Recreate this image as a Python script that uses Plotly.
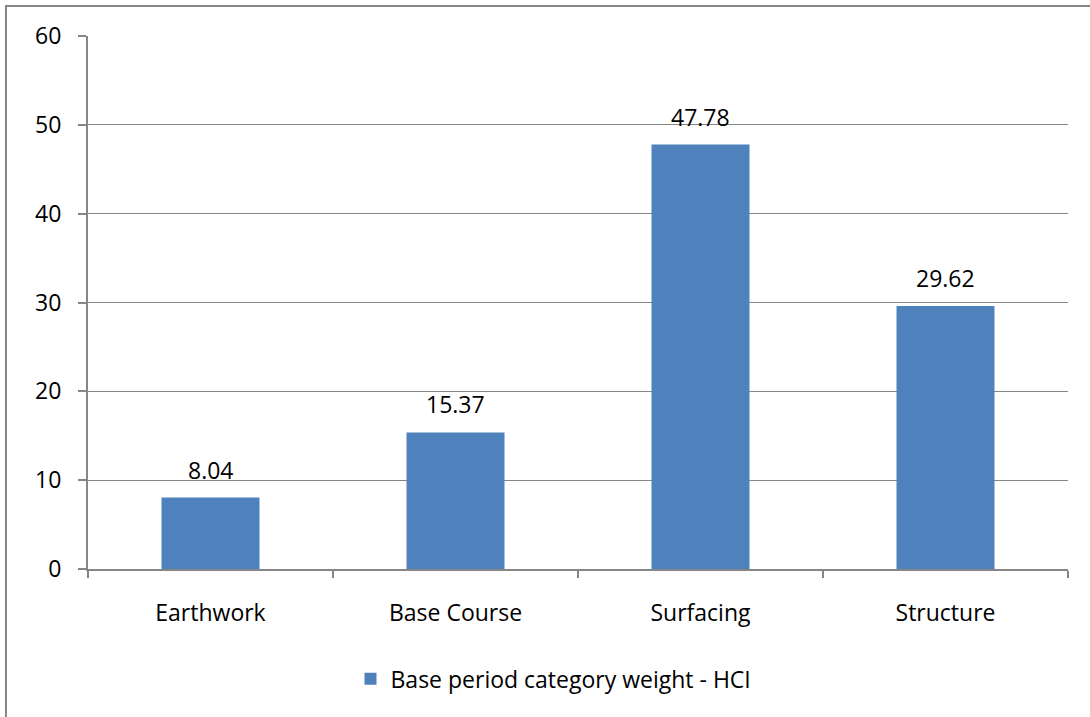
import plotly.graph_objects as go

categories = ["Earthwork", "Base Course", "Surfacing", "Structure"]
weights = [8.04, 15.37, 47.78, 29.62]
series_name = "Base period category weight - HCI"

grey = "#868686"

fig = go.Figure()
fig.add_trace(go.Bar(
    x=categories, y=weights, name=series_name,
    marker=dict(color="#4F81BD", line=dict(width=0)),
))

# value labels above the bars
for c, v in zip(categories, weights):
    fig.add_annotation(x=c, y=v, text=f"{v:.2f}", showarrow=False,
                       yanchor="middle", yshift=28,
                       font=dict(size=23, color="black"))

fig.update_layout(
    width=1090, height=717,
    margin=dict(l=88, r=22, t=36, b=148),
    paper_bgcolor="white", plot_bgcolor="white",
    font=dict(family="Open Sans, sans-serif", size=23, color="black"),
    bargap=0.6,
    showlegend=True,
    legend=dict(orientation="h", x=0.475, xanchor="center", y=-0.206, yanchor="middle",
                font=dict(size=23)),
    xaxis=dict(showline=True, linecolor=grey, linewidth=2, ticks="outside",
               tickson="boundaries", ticklen=7, tickcolor=grey, tickwidth=2,
               ticklabelstandoff=22, showgrid=False),
    yaxis=dict(range=[0, 60], dtick=10, showline=True, linecolor=grey, linewidth=2,
               ticks="outside", ticklen=8, tickcolor=grey, tickwidth=2,
               showgrid=True, gridcolor=grey, gridwidth=1, zeroline=False,
               ticklabelstandoff=12),
)

# outer chart frame (only top and left edges fall inside the picture)
fig.add_shape(type="path", xref="paper", yref="paper",
              path="M 1.1,1.0563 L -0.0837,1.0563 L -0.0837,-0.5",
              line=dict(color=grey, width=2), layer="below")

# drop the default page margin so the figure sits at the window corner
fig.write_html("out.html", config={"displayModeBar": False},
               post_script="document.body.style.margin='0';")
